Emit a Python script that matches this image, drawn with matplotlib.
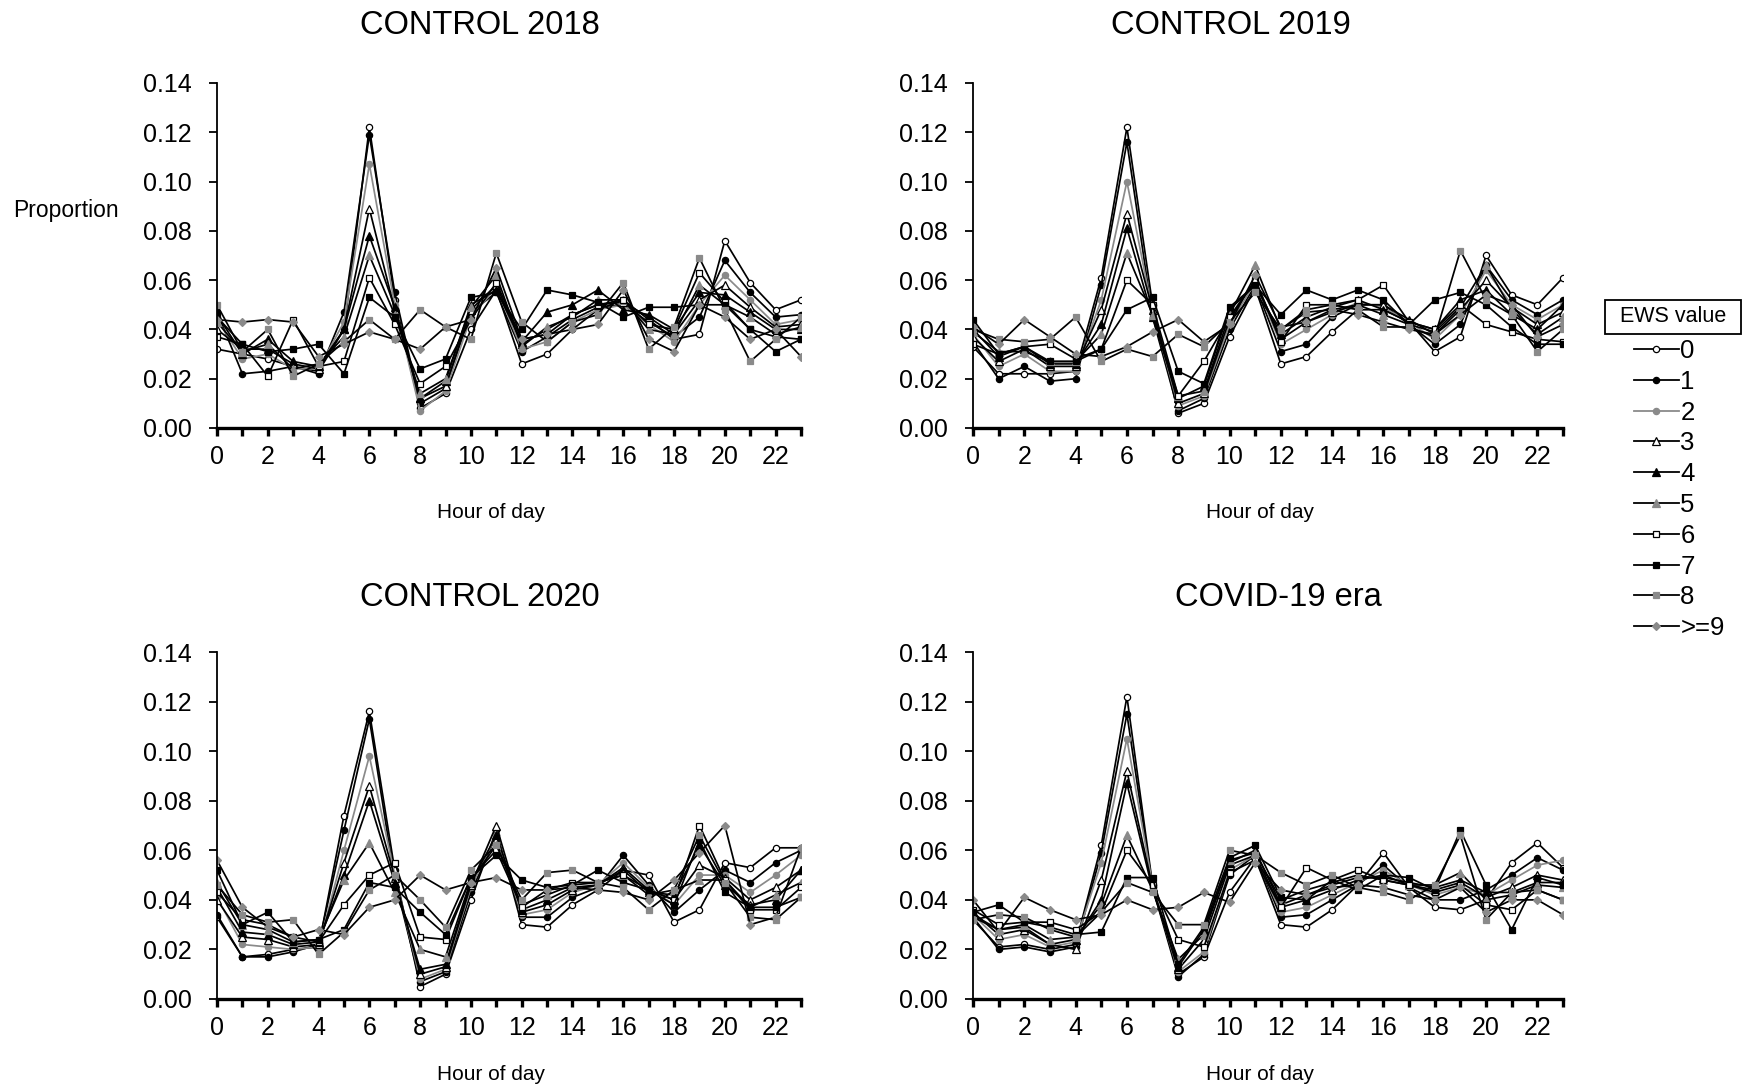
import matplotlib
matplotlib.use("Agg")
import matplotlib.pyplot as plt
from matplotlib.lines import Line2D
from matplotlib.patches import Rectangle

plt.rcParams['font.family'] = ['Liberation Sans', 'DejaVu Sans']

hours = list(range(24))
ews_labels = ["0", "1", "2", "3", "4", "5", "6", "7", "8", ">=9"]
panel_titles = ["CONTROL 2018", "CONTROL 2019", "CONTROL 2020", "COVID-19 era"]

control_2018 = [
    [0.032, 0.030, 0.028, 0.025, 0.023, 0.040, 0.122, 0.052, 0.008, 0.014, 0.040, 0.056, 0.026, 0.030, 0.040, 0.048, 0.052, 0.044, 0.036, 0.038, 0.076, 0.059, 0.048, 0.052],
    [0.047, 0.022, 0.023, 0.025, 0.022, 0.047, 0.119, 0.055, 0.010, 0.016, 0.047, 0.055, 0.031, 0.037, 0.044, 0.049, 0.050, 0.043, 0.037, 0.045, 0.068, 0.055, 0.045, 0.046],
    [0.044, 0.028, 0.030, 0.024, 0.024, 0.043, 0.107, 0.050, 0.007, 0.015, 0.045, 0.057, 0.032, 0.035, 0.043, 0.048, 0.050, 0.042, 0.035, 0.050, 0.062, 0.052, 0.042, 0.044],
    [0.040, 0.032, 0.032, 0.026, 0.024, 0.040, 0.089, 0.048, 0.012, 0.017, 0.048, 0.058, 0.034, 0.040, 0.046, 0.050, 0.051, 0.045, 0.038, 0.052, 0.058, 0.049, 0.041, 0.042],
    [0.046, 0.030, 0.036, 0.027, 0.025, 0.040, 0.078, 0.049, 0.012, 0.019, 0.050, 0.056, 0.035, 0.047, 0.050, 0.056, 0.048, 0.046, 0.040, 0.055, 0.054, 0.047, 0.040, 0.040],
    [0.043, 0.031, 0.034, 0.024, 0.026, 0.037, 0.070, 0.046, 0.014, 0.020, 0.049, 0.062, 0.033, 0.041, 0.045, 0.052, 0.052, 0.040, 0.038, 0.058, 0.050, 0.045, 0.038, 0.041],
    [0.037, 0.034, 0.021, 0.044, 0.025, 0.027, 0.061, 0.042, 0.018, 0.025, 0.044, 0.059, 0.036, 0.038, 0.046, 0.050, 0.052, 0.042, 0.040, 0.063, 0.051, 0.040, 0.037, 0.036],
    [0.045, 0.034, 0.031, 0.032, 0.034, 0.022, 0.053, 0.045, 0.024, 0.028, 0.053, 0.055, 0.040, 0.056, 0.054, 0.051, 0.045, 0.049, 0.049, 0.050, 0.050, 0.040, 0.031, 0.036],
    [0.050, 0.031, 0.040, 0.021, 0.026, 0.035, 0.044, 0.036, 0.048, 0.041, 0.036, 0.071, 0.043, 0.035, 0.043, 0.046, 0.059, 0.032, 0.041, 0.069, 0.048, 0.027, 0.036, 0.045],
    [0.044, 0.043, 0.044, 0.043, 0.029, 0.034, 0.039, 0.036, 0.032, 0.041, 0.044, 0.065, 0.036, 0.038, 0.040, 0.042, 0.056, 0.036, 0.031, 0.050, 0.045, 0.036, 0.040, 0.029],
]

control_2019 = [
    [0.033, 0.022, 0.022, 0.022, 0.023, 0.061, 0.122, 0.050, 0.006, 0.010, 0.037, 0.057, 0.026, 0.029, 0.039, 0.048, 0.048, 0.043, 0.031, 0.037, 0.070, 0.054, 0.050, 0.061],
    [0.035, 0.020, 0.025, 0.019, 0.020, 0.058, 0.116, 0.045, 0.007, 0.012, 0.040, 0.058, 0.031, 0.034, 0.045, 0.050, 0.050, 0.042, 0.034, 0.042, 0.066, 0.052, 0.046, 0.052],
    [0.038, 0.025, 0.030, 0.023, 0.023, 0.052, 0.100, 0.047, 0.009, 0.013, 0.042, 0.059, 0.034, 0.040, 0.046, 0.051, 0.049, 0.043, 0.036, 0.046, 0.064, 0.050, 0.044, 0.050],
    [0.037, 0.027, 0.032, 0.025, 0.025, 0.048, 0.087, 0.048, 0.010, 0.014, 0.044, 0.060, 0.036, 0.043, 0.047, 0.050, 0.050, 0.044, 0.038, 0.048, 0.060, 0.049, 0.042, 0.047],
    [0.040, 0.029, 0.033, 0.026, 0.026, 0.042, 0.081, 0.045, 0.012, 0.017, 0.048, 0.058, 0.038, 0.045, 0.049, 0.052, 0.048, 0.043, 0.040, 0.052, 0.056, 0.046, 0.040, 0.050],
    [0.039, 0.031, 0.031, 0.027, 0.027, 0.038, 0.071, 0.046, 0.013, 0.015, 0.046, 0.066, 0.040, 0.047, 0.048, 0.050, 0.046, 0.042, 0.039, 0.049, 0.066, 0.048, 0.038, 0.045],
    [0.034, 0.030, 0.033, 0.034, 0.028, 0.032, 0.060, 0.050, 0.013, 0.027, 0.045, 0.060, 0.035, 0.050, 0.050, 0.052, 0.058, 0.043, 0.040, 0.050, 0.042, 0.039, 0.036, 0.035],
    [0.044, 0.030, 0.033, 0.027, 0.027, 0.032, 0.048, 0.053, 0.023, 0.018, 0.049, 0.058, 0.046, 0.056, 0.052, 0.056, 0.052, 0.042, 0.052, 0.055, 0.050, 0.041, 0.034, 0.034],
    [0.040, 0.036, 0.035, 0.036, 0.045, 0.027, 0.032, 0.029, 0.038, 0.033, 0.043, 0.055, 0.040, 0.048, 0.050, 0.048, 0.041, 0.041, 0.037, 0.072, 0.052, 0.046, 0.031, 0.040],
    [0.041, 0.034, 0.044, 0.037, 0.030, 0.029, 0.033, 0.039, 0.044, 0.035, 0.042, 0.062, 0.041, 0.043, 0.048, 0.046, 0.043, 0.040, 0.038, 0.046, 0.054, 0.050, 0.037, 0.042],
]

control_2020 = [
    [0.033, 0.017, 0.018, 0.020, 0.021, 0.074, 0.116, 0.052, 0.005, 0.010, 0.040, 0.068, 0.030, 0.029, 0.038, 0.044, 0.052, 0.050, 0.031, 0.036, 0.055, 0.053, 0.061, 0.061],
    [0.034, 0.017, 0.017, 0.019, 0.022, 0.068, 0.113, 0.048, 0.007, 0.011, 0.043, 0.066, 0.033, 0.033, 0.041, 0.045, 0.058, 0.046, 0.035, 0.044, 0.052, 0.047, 0.055, 0.060],
    [0.041, 0.022, 0.021, 0.020, 0.021, 0.060, 0.098, 0.050, 0.008, 0.012, 0.045, 0.066, 0.034, 0.036, 0.043, 0.046, 0.055, 0.045, 0.038, 0.050, 0.050, 0.043, 0.050, 0.058],
    [0.040, 0.025, 0.024, 0.021, 0.022, 0.055, 0.086, 0.049, 0.010, 0.013, 0.046, 0.070, 0.035, 0.038, 0.044, 0.046, 0.053, 0.044, 0.040, 0.054, 0.049, 0.040, 0.045, 0.052],
    [0.045, 0.027, 0.026, 0.022, 0.023, 0.050, 0.080, 0.047, 0.012, 0.014, 0.047, 0.066, 0.036, 0.040, 0.045, 0.046, 0.052, 0.043, 0.042, 0.062, 0.046, 0.038, 0.040, 0.052],
    [0.047, 0.030, 0.028, 0.023, 0.024, 0.048, 0.063, 0.043, 0.020, 0.017, 0.048, 0.062, 0.038, 0.042, 0.046, 0.047, 0.050, 0.042, 0.044, 0.048, 0.048, 0.037, 0.042, 0.047],
    [0.043, 0.032, 0.030, 0.025, 0.023, 0.038, 0.050, 0.055, 0.025, 0.024, 0.049, 0.060, 0.037, 0.044, 0.047, 0.047, 0.050, 0.044, 0.040, 0.070, 0.048, 0.036, 0.036, 0.045],
    [0.052, 0.030, 0.035, 0.023, 0.024, 0.028, 0.047, 0.045, 0.035, 0.026, 0.049, 0.058, 0.048, 0.045, 0.046, 0.052, 0.047, 0.044, 0.038, 0.064, 0.043, 0.037, 0.037, 0.041],
    [0.046, 0.034, 0.031, 0.032, 0.018, 0.027, 0.044, 0.050, 0.040, 0.029, 0.052, 0.062, 0.040, 0.051, 0.052, 0.047, 0.045, 0.036, 0.044, 0.066, 0.047, 0.033, 0.032, 0.041],
    [0.056, 0.037, 0.029, 0.025, 0.028, 0.026, 0.037, 0.040, 0.050, 0.044, 0.047, 0.049, 0.044, 0.044, 0.045, 0.044, 0.043, 0.040, 0.048, 0.059, 0.070, 0.030, 0.033, 0.061],
]

covid_era = [
    [0.032, 0.021, 0.022, 0.020, 0.022, 0.062, 0.122, 0.046, 0.010, 0.017, 0.043, 0.057, 0.030, 0.029, 0.036, 0.046, 0.059, 0.045, 0.037, 0.036, 0.040, 0.055, 0.063, 0.053],
    [0.033, 0.020, 0.021, 0.019, 0.021, 0.059, 0.115, 0.045, 0.009, 0.018, 0.050, 0.058, 0.033, 0.034, 0.040, 0.046, 0.054, 0.045, 0.040, 0.040, 0.044, 0.050, 0.057, 0.052],
    [0.034, 0.024, 0.026, 0.021, 0.023, 0.055, 0.105, 0.046, 0.011, 0.019, 0.052, 0.058, 0.035, 0.037, 0.042, 0.047, 0.052, 0.046, 0.042, 0.045, 0.042, 0.048, 0.054, 0.056],
    [0.035, 0.026, 0.028, 0.022, 0.020, 0.048, 0.092, 0.045, 0.012, 0.024, 0.054, 0.058, 0.037, 0.040, 0.044, 0.048, 0.050, 0.046, 0.044, 0.047, 0.041, 0.045, 0.050, 0.048],
    [0.034, 0.028, 0.029, 0.022, 0.024, 0.040, 0.087, 0.044, 0.013, 0.028, 0.055, 0.060, 0.038, 0.042, 0.046, 0.049, 0.049, 0.047, 0.045, 0.048, 0.043, 0.043, 0.047, 0.047],
    [0.033, 0.028, 0.030, 0.024, 0.025, 0.038, 0.066, 0.044, 0.016, 0.026, 0.056, 0.059, 0.040, 0.044, 0.047, 0.050, 0.048, 0.046, 0.046, 0.051, 0.040, 0.042, 0.046, 0.045],
    [0.036, 0.030, 0.031, 0.031, 0.028, 0.035, 0.060, 0.046, 0.024, 0.021, 0.051, 0.056, 0.037, 0.053, 0.048, 0.052, 0.048, 0.046, 0.043, 0.046, 0.038, 0.036, 0.044, 0.040],
    [0.035, 0.038, 0.031, 0.029, 0.026, 0.027, 0.049, 0.049, 0.014, 0.029, 0.057, 0.062, 0.041, 0.040, 0.048, 0.044, 0.050, 0.049, 0.044, 0.068, 0.046, 0.028, 0.049, 0.046],
    [0.032, 0.034, 0.033, 0.028, 0.025, 0.035, 0.047, 0.043, 0.030, 0.030, 0.060, 0.058, 0.051, 0.046, 0.050, 0.045, 0.043, 0.040, 0.046, 0.066, 0.032, 0.043, 0.044, 0.040],
    [0.040, 0.027, 0.041, 0.036, 0.032, 0.034, 0.040, 0.036, 0.037, 0.043, 0.039, 0.055, 0.044, 0.042, 0.045, 0.046, 0.045, 0.042, 0.040, 0.045, 0.035, 0.040, 0.040, 0.034],
]

GRAY = "#8a8a8a"
# (marker, face colour, line colour) for each EWS value
styles = [
    ("o", "white", "black"),
    ("o", "black", "black"),
    ("o", GRAY, GRAY),
    ("^", "white", "black"),
    ("^", "black", "black"),
    ("^", GRAY, "black"),
    ("s", "white", "black"),
    ("s", "black", "black"),
    ("s", GRAY, "black"),
    ("D", GRAY, "black"),
]
marker_sizes = {"o": 4.5, "^": 5.2, "s": 4.8, "D": 4.0}


def draw_panel(ax, series):
    for vals, (mk, fc, lc) in zip(series, styles):
        ec = GRAY if fc == GRAY else "black"
        ax.plot(hours, vals, color=lc, lw=1.25, marker=mk, ms=marker_sizes[mk],
                mfc=fc, mec=ec, mew=0.9)
    ax.set_xlim(0, 23)
    ax.set_ylim(0, 0.14)
    ax.set_xticks(hours)
    ax.set_xticklabels([str(h) if h % 2 == 0 else "" for h in hours])
    ax.set_yticks([0.00, 0.02, 0.04, 0.06, 0.08, 0.10, 0.12, 0.14])
    ax.set_yticklabels(["%.2f" % v for v in ax.get_yticks()])
    ax.spines["top"].set_visible(False)
    ax.spines["right"].set_visible(False)
    ax.spines["bottom"].set_linewidth(2.4)
    ax.spines["left"].set_linewidth(1.3)
    ax.tick_params(axis="x", direction="out", length=6, width=2.4, labelsize=18, pad=6)
    ax.tick_params(axis="y", direction="out", length=6, width=1.3, labelsize=18, pad=12)


fig = plt.figure(figsize=(17.43, 10.88), dpi=100)
W, H = 1743, 1088

all_data = [control_2018, control_2019, control_2020, covid_era]
lefts = [217, 973, 217, 973]
rights = [801, 1563, 801, 1563]
tops = [83, 83, 652, 652]
bottoms = [428, 428, 999, 999]
title_x = [480, 1231, 480, 1278]
title_y = [25, 25, 597, 597]
xlabel_x = [491, 1260, 491, 1260]
xlabel_y = [513, 513, 1075, 1075]

for i in range(4):
    ax = fig.add_axes([lefts[i] / W, 1 - bottoms[i] / H,
                       (rights[i] - lefts[i]) / W, (bottoms[i] - tops[i]) / H])
    draw_panel(ax, all_data[i])
    fig.text(title_x[i] / W, 1 - title_y[i] / H, panel_titles[i],
             fontsize=23.5, ha="center", va="center")
    fig.text(xlabel_x[i] / W, 1 - xlabel_y[i] / H, "Hour of day",
             fontsize=15, ha="center", va="center")

fig.text(66 / W, 1 - 211 / H, "Proportion", fontsize=16.5, ha="center", va="center")

# legend: boxed title, entries below without frame
fig.patches.append(Rectangle((1605 / W, 1 - 334 / H), 136 / W, 34 / H,
                             transform=fig.transFigure, fc="white", ec="black", lw=1.3))
fig.text(1673 / W, 1 - 317 / H, "EWS value", fontsize=15.5, ha="center", va="center")
handles = []
for mk, fc, lc in styles:
    ec = GRAY if fc == GRAY else "black"
    handles.append(Line2D([], [], color=lc, lw=1.3, marker=mk, ms=marker_sizes[mk],
                          mfc=fc, mec=ec, mew=0.9))
fig.legend(handles, ews_labels, loc="upper left", bbox_to_anchor=(1634 / W, 1 - 339 / H),
           frameon=False, fontsize=18.5, handlelength=1.75, handletextpad=0.05,
           labelspacing=0.265, borderpad=0, borderaxespad=0)

fig.savefig("out.png", dpi=100)
